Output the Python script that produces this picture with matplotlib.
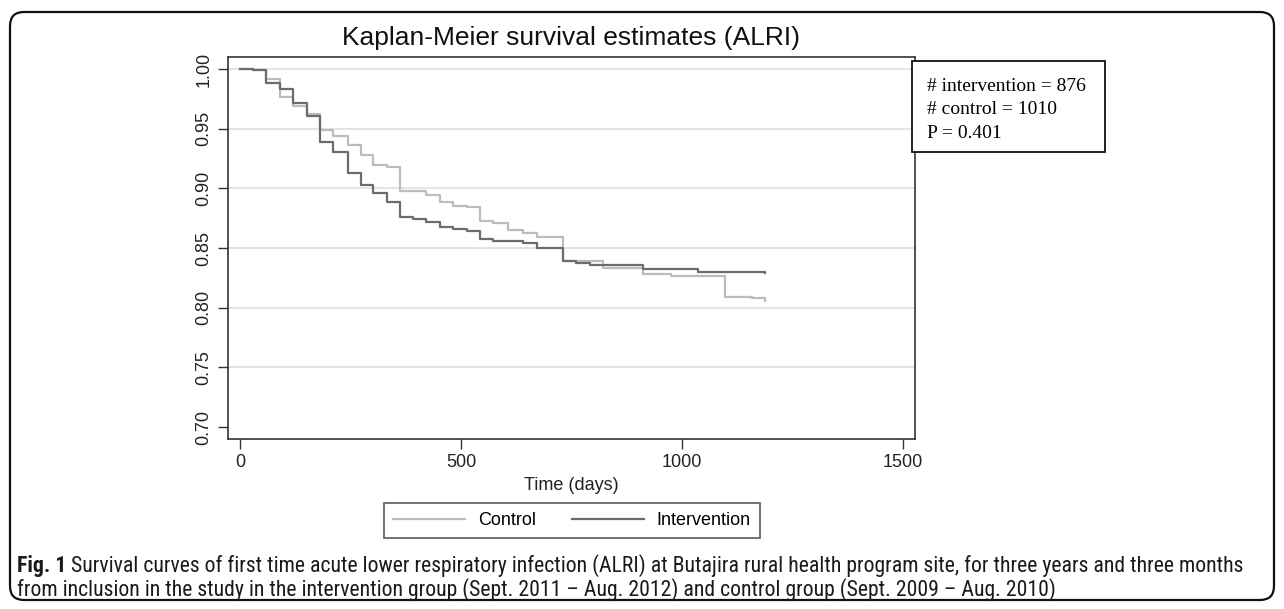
import matplotlib
matplotlib.use("Agg")
import matplotlib.pyplot as plt
from matplotlib.patches import Rectangle, FancyBboxPatch
from matplotlib.transforms import IdentityTransform
from matplotlib import font_manager

# Kaplan-Meier steps (days, survival after the step)
int_days = [0, 30, 60, 90, 121, 151, 181, 211, 244, 274, 302, 332, 362, 392, 422,
            453, 483, 513, 543, 573, 641, 671, 731, 761, 791, 912, 1037, 1188]
int_surv = [1.000, 0.9989, 0.9880, 0.9830, 0.9718, 0.9606, 0.9391, 0.9307, 0.9126,
            0.9028, 0.8958, 0.8888, 0.8763, 0.8741, 0.8715, 0.8679, 0.8659, 0.8642,
            0.8572, 0.8557, 0.8539, 0.8503, 0.8394, 0.8377, 0.8358, 0.8324, 0.8302,
            0.8294]

ctl_days = [0, 30, 60, 90, 121, 151, 181, 211, 244, 274, 302, 332, 362, 422, 453,
            483, 513, 543, 573, 607, 641, 671, 731, 822, 912, 976, 1097, 1158, 1188]
ctl_surv = [1.000, 0.9989, 0.9913, 0.9768, 0.9690, 0.9623, 0.9489, 0.9439, 0.9363,
            0.9279, 0.9196, 0.9182, 0.8978, 0.8944, 0.8888, 0.8855, 0.8841, 0.8729,
            0.8712, 0.8650, 0.8622, 0.8589, 0.8388, 0.8330, 0.8283, 0.8268, 0.8092,
            0.8078, 0.8059]

y_ticks = [0.70, 0.75, 0.80, 0.85, 0.90, 0.95, 1.00]
x_ticks = [0, 500, 1000, 1500]
box_lines = ["# intervention = 876", "# control = 1010", "P = 0.401"]
caption_bold = "Fig. 1"
caption_1 = (" Survival curves of first time acute lower respiratory infection (ALRI) at "
             "Butajira rural health program site, for three years and three months")
caption_2 = ("from inclusion in the study in the intervention group (Sept. 2011 \u2013 "
             "Aug. 2012) and control group (Sept. 2009 \u2013 Aug. 2010)")

W, H = 1284, 609
plt.rcParams['font.family'] = ['Liberation Sans', 'DejaVu Sans']

fig = plt.figure(figsize=(W / 100, H / 100), dpi=100)
fig.patch.set_facecolor("white")

# axes placed in pixel terms: left 228, right 915, top 57, bottom 439
ax = fig.add_axes([228 / W, 1 - 439 / H, (915 - 228) / W, (439 - 57) / H])

c_ctl = "#bcbcbc"
c_int = "#6c6c6c"
ax.step(ctl_days, ctl_surv, where="post", color=c_ctl, lw=1.6, label="Control")
ax.step(int_days, int_surv, where="post", color=c_int, lw=1.6, label="Intervention")

ax.set_xlim(-27, 1527)
ax.set_ylim(0.69, 1.01)
ax.set_xticks(x_ticks)
ax.set_yticks(y_ticks)
ax.set_yticklabels(["%.2f" % v for v in y_ticks], rotation=90, va="center")
ax.tick_params(axis="both", labelsize=13, length=7, width=1, color="#333333",
               labelcolor="#222222", pad=4)

ax.grid(axis="y", color="#e4e4e4", lw=1.4)
ax.set_axisbelow(True)
ax.get_ygridlines()[0].set_visible(False)

for sp in ax.spines.values():
    sp.set_color("#333333")
    sp.set_linewidth(1.2)

ax.set_xlabel("Time (days)", fontsize=13, color="#222222", labelpad=4)
ax.set_title("Kaplan-Meier survival estimates (ALRI)", fontsize=19, color="#111111", pad=9)

leg = ax.legend(loc="upper center", bbox_to_anchor=(572 / W, 1 - 503 / H),
                bbox_transform=fig.transFigure, ncol=2, fontsize=13, frameon=True,
                fancybox=False, edgecolor="#333333", handlelength=4.0,
                handletextpad=0.7, columnspacing=2.0, borderpad=0.5, borderaxespad=0)
leg.get_frame().set_linewidth(1.2)

# annotation box, top right
fig.patches.append(Rectangle((912 / W, 1 - 152 / H), (1105 - 912) / W, (152 - 61) / H,
                             transform=fig.transFigure, facecolor="white",
                             edgecolor="#111111", lw=1.3, zorder=5))
for i, line in enumerate(box_lines):
    fig.text(927 / W, 1 - (91 + 23.3 * i) / H, line, fontsize=14,
             family="Liberation Serif", va="baseline", ha="left", zorder=6)

# outer rounded frame
fig.patches.append(FancyBboxPatch((10, 9), 1264, 588, boxstyle="round,pad=0,rounding_size=14",
                                  transform=IdentityTransform(), facecolor="none",
                                  edgecolor="#111111", lw=1.6))

# caption: narrow font if there is one, sized so line 1 spans x 17..1253
narrow = [f for f in ['Liberation Sans Narrow', 'Roboto Condensed', 'Open Sans Condensed',
                      'DejaVu Sans Condensed']
          if f in {e.name for e in font_manager.fontManager.ttflist}]
cap_font = narrow[:1] + ['Liberation Sans', 'DejaVu Sans']
size = 12.5
t0 = fig.text(17 / W, 1 - 572 / H, caption_bold, fontsize=size, weight="bold",
              family=cap_font, va="baseline", color="#1a1a1a")
t1 = fig.text(0, 1 - 572 / H, caption_1, fontsize=size, family=cap_font, va="baseline",
              color="#1a1a1a")
fig.canvas.draw()
r = fig.canvas.get_renderer()
total = t0.get_window_extent(r).width + t1.get_window_extent(r).width
size = size * (1253 - 17) / total
t0.set_fontsize(size)
t1.set_fontsize(size)
fig.canvas.draw()
t1.set_x(t0.get_window_extent(r).x1 / W)
fig.text(17 / W, 1 - 596 / H, caption_2, fontsize=size, family=cap_font, va="baseline",
         color="#1a1a1a")

fig.savefig("out.png", dpi=100)
